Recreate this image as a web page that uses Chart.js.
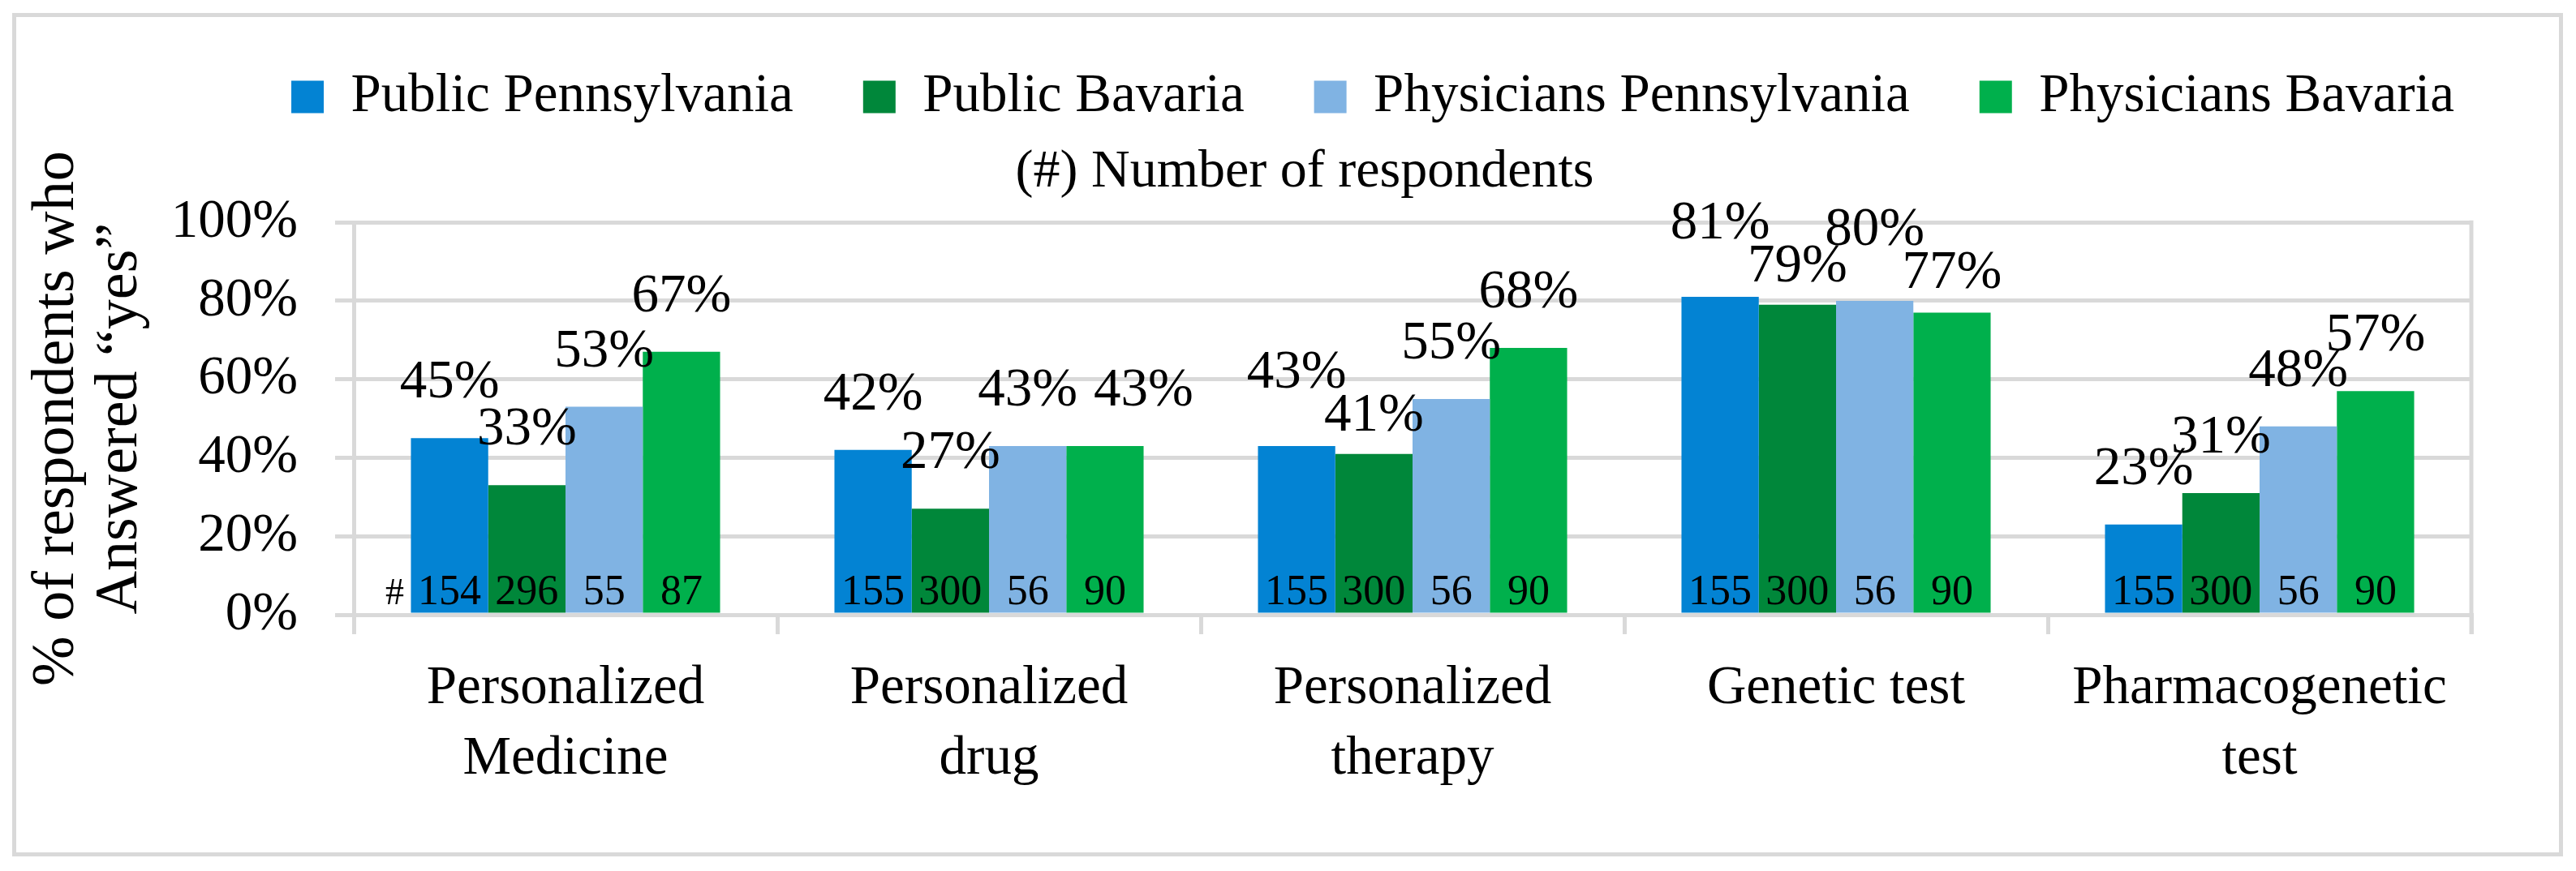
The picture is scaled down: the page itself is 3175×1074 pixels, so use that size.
<!DOCTYPE html>
<html>
<head>
<meta charset="utf-8">
<script src="https://cdn.jsdelivr.net/npm/chart.js@4.4.0/dist/chart.umd.min.js"></script>
<style>
  html, body { margin: 0; padding: 0; background: #fff; }
  #wrap { position: relative; width: 3175px; height: 1074px; }
</style>
</head>
<body>
<div id="wrap"><canvas id="chart"></canvas></div>
<script>
// categories (x axis), multi-line like the original
var categories = [
  ['Personalized', 'Medicine'],
  ['Personalized', 'drug'],
  ['Personalized', 'therapy'],
  'Genetic test',
  ['Pharmacogenetic', 'test']
];
var seriesNames = ['Public Pennsylvania', 'Public Bavaria', 'Physicians Pennsylvania', 'Physicians Bavaria'];
var seriesColors = ['#0383d3', '#00873a', '#80b3e3', '#00b04c'];

// % of respondents who answered "yes"
var publicPA = [45, 42, 43, 81, 23];
var publicBY = [33, 27, 41, 79, 31];
var physiciansPA = [53, 43, 55, 80, 48];
var physiciansBY = [67, 43, 68, 77, 57];

// (#) number of respondents, printed at the foot of each bar
var nPublicPA = [154, 155, 155, 155, 155];
var nPublicBY = [296, 300, 300, 300, 300];
var nPhysiciansPA = [55, 56, 56, 56, 56];
var nPhysiciansBY = [87, 90, 90, 90, 90];

var yTicks = [0, 20, 40, 60, 80, 100];

var values = [publicPA, publicBY, physiciansPA, physiciansBY];
var counts = [nPublicPA, nPublicBY, nPhysiciansPA, nPhysiciansBY];

var FONT = "'Liberation Serif', 'Times New Roman', serif";
var GRID = '#d9d9d9';
var FS = 67;

Chart.defaults.font.family = FONT;
Chart.defaults.color = '#000';

// outer frame + right edge of the plot
var framePlugin = {
  id: 'frame',
  beforeDraw: function (chart) {
    var ctx = chart.ctx;
    ctx.save();
    ctx.strokeStyle = GRID;
    ctx.lineWidth = 5;
    ctx.strokeRect(17.5, 18.5, 3139, 1035);
    ctx.restore();
  },
  beforeDatasetsDraw: function (chart) {
    var a = chart.chartArea, ctx = chart.ctx;
    ctx.save();
    ctx.strokeStyle = GRID;
    ctx.lineWidth = 5;
    ctx.beginPath();
    ctx.moveTo(a.right, a.top - 2.5);
    ctx.lineTo(a.right, a.bottom + 24);
    ctx.stroke();
    ctx.restore();
  },
  afterLayout: function (chart) {
    // legend and note sit a bit right of the canvas centre in the original
    var lg = chart.legend;
    var d = 1692 - (lg.left + lg.right) / 2;
    lg.left += d; lg.right += d;
    var tb = chart.titleBlock;
    var d2 = 1608 - (tb.left + tb.right) / 2;
    tb.left += d2; tb.right += d2;
  }
};

// value labels above bars, respondent counts inside bars
var labelPlugin = {
  id: 'barLabels',
  afterDatasetsDraw: function (chart) {
    var ctx = chart.ctx;
    var textH = 45, sep = textH + 8;
    ctx.save();
    ctx.fillStyle = '#000';
    ctx.textAlign = 'center';
    ctx.textBaseline = 'alphabetic';
    for (var i = 0; i < categories.length; i++) {
      // first place the labels of one group, pulling apart the ones that collide
      ctx.font = FS + 'px ' + FONT;
      var lab = [];
      for (var d = 0; d < values.length; d++) {
        var bar = chart.getDatasetMeta(d).data[i];
        var txt = values[d][i] + '%';
        var cur = { txt: txt, x: bar.x, w: ctx.measureText(txt).width, base: bar.y - 50 };
        var prev = lab[d - 1];
        if (prev) {
          var hOver = (prev.x + prev.w / 2) - (cur.x - cur.w / 2);
          var vOver = Math.min(prev.base, cur.base) - Math.max(prev.base, cur.base) + textH;
          if (hOver > 0 && vOver > 20) {
            if (Math.abs(prev.base - cur.base) < 5) {
              cur.x += hOver + 20;
            } else {
              var need = (sep - Math.abs(cur.base - prev.base)) / 2;
              if (cur.base > prev.base) { prev.base -= need; cur.base += need; }
              else { prev.base += need; cur.base -= need; }
            }
          }
        }
        lab.push(cur);
      }
      lab.forEach(function (l) { ctx.fillText(l.txt, l.x, l.base); });

      for (var d = 0; d < values.length; d++) {
        var bar = chart.getDatasetMeta(d).data[i];
        ctx.font = '52px ' + FONT;
        ctx.fillText(String(counts[d][i]), bar.x, bar.base - 11);
        if (i === 0 && d === 0) {
          ctx.font = '46px ' + FONT;
          ctx.fillText('#', bar.x - bar.width / 2 - 20, bar.base - 11);
        }
      }
    }
    ctx.restore();
  }
};

var datasets = seriesNames.map(function (name, k) {
  return {
    label: name,
    data: values[k],
    backgroundColor: seriesColors[k],
    borderWidth: 0,
    barPercentage: 1,
    categoryPercentage: 0.73
  };
});

new Chart(document.getElementById('chart'), {
  type: 'bar',
  data: { labels: categories, datasets: datasets },
  plugins: [framePlugin, labelPlugin],
  options: {
    responsive: true,
    maintainAspectRatio: false,
    animation: false,
    layout: { padding: { left: 0, right: 129, top: 0, bottom: 0 } },
    plugins: {
      tooltip: { enabled: false },
      legend: {
        position: 'top',
        labels: {
          font: { size: FS, family: FONT },
          boxWidth: 40,
          boxHeight: 40,
          padding: 86,
          color: '#000'
        }
      },
      title: {
        display: true,
        text: '(#) Number of respondents',
        weight: 500,
        font: { size: 66, weight: 'normal', family: FONT, lineHeight: 1.2 },
        padding: { top: 10, bottom: 22 },
        color: '#000'
      }
    },
    scales: {
      x: {
        afterFit: function (s) { s.height = 316; },
        grid: {
          display: true,
          drawOnChartArea: false,
          drawTicks: true,
          tickLength: 24,
          color: GRID,
          lineWidth: 5
        },
        border: { display: true, color: GRID, width: 5 },
        ticks: {
          font: { size: FS, lineHeight: 1.2985 },
          padding: 24,
          color: '#000',
          maxRotation: 0,
          autoSkip: false
        }
      },
      y: {
        min: 0,
        max: 100,
        afterFit: function (s) { s.width = 436; },
        afterBuildTicks: function (s) {
          s.ticks = yTicks.map(function (v) { return { value: v }; });
        },
        grid: {
          color: GRID,
          lineWidth: 5,
          drawTicks: true,
          tickLength: 23
        },
        border: { display: true, color: GRID, width: 5 },
        ticks: {
          font: { size: FS },
          padding: 46,
          color: '#000',
          callback: function (v) { return v + '%'; }
        },
        title: {
          display: true,
          text: ['% of respondents who', 'Answered \u201cyes\u201d'],
          font: { size: 74, lineHeight: 1.054 },
          padding: { top: 32, bottom: 0 },
          color: '#000'
        }
      }
    }
  }
});
</script>
</body>
</html>
